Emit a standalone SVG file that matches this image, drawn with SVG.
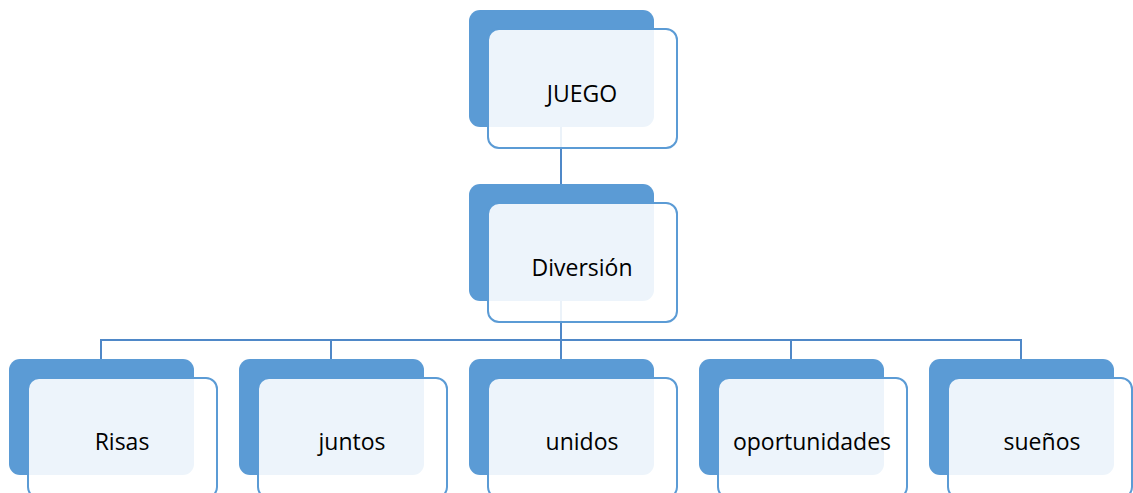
<svg xmlns="http://www.w3.org/2000/svg" width="1133" height="493" viewBox="0 0 1133 493">
<style>
.back{fill:#5B9BD5}
.front{fill:#FFFFFF;fill-opacity:0.89;stroke:#5B9BD5;stroke-width:2}
.lbl{font-family:"Open Sans","Liberation Sans",sans-serif;font-size:23px;fill:#000;text-anchor:middle}
.con{stroke:#4F88C8;stroke-width:2;fill:none}
</style>
<rect width="1133" height="493" fill="#FFFFFF"/>
<g id="connectors">
<line class="con" x1="561" y1="127" x2="561" y2="185"/>
<polyline class="con" points="101,359 101,340 1021,340 1021,359"/>
<line class="con" x1="331" y1="340" x2="331" y2="359"/>
<line class="con" x1="791" y1="340" x2="791" y2="359"/>
<line class="con" x1="561" y1="301" x2="561" y2="359"/>
</g>
<g id="node-juego">
<rect class="back" x="469" y="10" width="185" height="117" rx="11"/>
<rect class="front" x="488" y="29" width="189" height="119" rx="11"/>
<text class="lbl" x="582" y="102">JUEGO</text>
</g>
<g id="node-diversion">
<rect class="back" x="469" y="184" width="185" height="117" rx="11"/>
<rect class="front" x="488" y="203" width="189" height="119" rx="11"/>
<text class="lbl" x="582" y="276">Diversión</text>
</g>
<g id="node-risas">
<rect class="back" x="9" y="359" width="185" height="116" rx="11"/>
<rect class="front" x="28" y="378" width="189" height="120" rx="11"/>
<text class="lbl" x="122" y="450">Risas</text>
</g>
<g id="node-juntos">
<rect class="back" x="239" y="359" width="185" height="116" rx="11"/>
<rect class="front" x="258" y="378" width="189" height="120" rx="11"/>
<text class="lbl" x="352" y="450">juntos</text>
</g>
<g id="node-unidos">
<rect class="back" x="469" y="359" width="185" height="116" rx="11"/>
<rect class="front" x="488" y="378" width="189" height="120" rx="11"/>
<text class="lbl" x="582" y="450">unidos</text>
</g>
<g id="node-oportunidades">
<rect class="back" x="699" y="359" width="185" height="116" rx="11"/>
<rect class="front" x="718" y="378" width="189" height="120" rx="11"/>
<text class="lbl" x="812" y="450">oportunidades</text>
</g>
<g id="node-suenos">
<rect class="back" x="929" y="359" width="185" height="116" rx="11"/>
<rect class="front" x="948" y="378" width="184" height="120" rx="11"/>
<text class="lbl" x="1042" y="450">sueños</text>
</g>
</svg>
